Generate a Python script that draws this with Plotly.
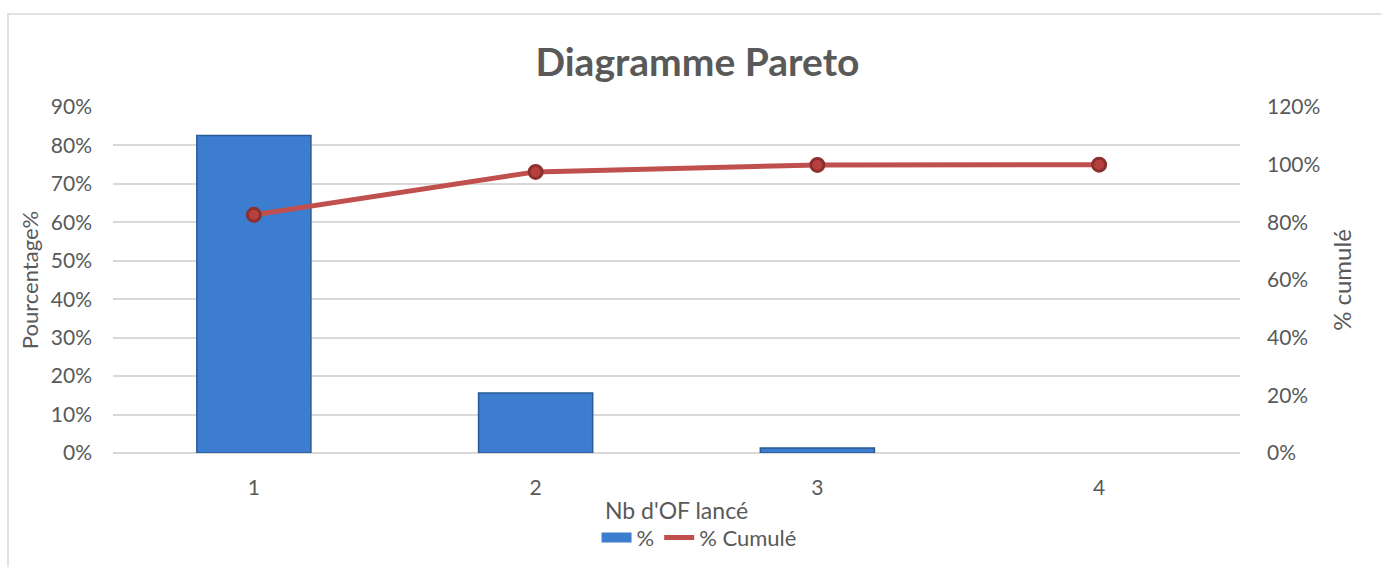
import plotly.graph_objects as go

categories = ["1", "2", "3", "4"]
pct = [0.826, 0.156, 0.013, 0.0]
cum_pct = [0.826, 0.975, 0.999, 1.0]
left_ticks = [0, 0.1, 0.2, 0.3, 0.4, 0.5, 0.6, 0.7, 0.8, 0.9]
right_ticks = [0, 0.2, 0.4, 0.6, 0.8, 1.0, 1.2]

FONT = "Lato"
GREY = "#595959"
BAR_BLUE = "#3d7dcf"
BAR_EDGE = "#2a5a95"
LINE_RED = "#c0504d"

fig = go.Figure()
fig.add_trace(go.Bar(
    x=categories, y=pct, name="%", showlegend=False,
    marker=dict(color=BAR_BLUE,
                line=dict(color=BAR_EDGE,
                          width=[1.5 if v > 0 else 0 for v in pct])),
    width=0.405,
))
fig.add_trace(go.Scatter(
    x=categories, y=cum_pct, name="% Cumulé", yaxis="y2", showlegend=False,
    mode="lines+markers",
    line=dict(color=LINE_RED, width=5),
    marker=dict(size=13, color="#b5403d", line=dict(color="#8c2f2d", width=3)),
))
# legend entries (legend-only styles)
fig.add_trace(go.Scatter(
    x=[None], y=[None], name="%", mode="lines",
    line=dict(color=BAR_BLUE, width=14),
))
fig.add_trace(go.Scatter(
    x=[None], y=[None], name="% Cumulé", mode="lines", yaxis="y2",
    line=dict(color=LINE_RED, width=5),
))

fig.update_layout(
    width=1381, height=567,
    margin=dict(l=113, r=141, t=107, b=114, autoexpand=False),
    paper_bgcolor="white", plot_bgcolor="white",
    font=dict(family=FONT, color=GREY, size=21),
    title=dict(text="<b>Diagramme Pareto</b>", x=0.505, xanchor="center",
               y=0.89, yanchor="middle",
               font=dict(size=39, family=FONT, color=GREY)),
    xaxis=dict(
        type="category", range=[-0.5, 3.5],
        title=dict(text="Nb d'OF lancé", font=dict(size=23), standoff=4),
        tickfont=dict(size=21), ticks="", showgrid=False,
        showline=False, zeroline=False, ticklabelstandoff=20,
    ),
    yaxis=dict(
        range=[0, 0.9], tickvals=left_ticks, tickformat=".0%",
        title=dict(text="Pourcentage%", font=dict(size=22), standoff=6),
        gridcolor="#d9d9d9", gridwidth=1.5, zeroline=True,
        zerolinecolor="#d9d9d9", zerolinewidth=1.5, ticks="",
        ticklabelstandoff=20, tickfont=dict(size=21),
    ),
    yaxis2=dict(
        range=[0, 1.2], tickvals=right_ticks, tickformat=".0%",
        overlaying="y", side="right", showgrid=False, zeroline=False,
        title=dict(text="% cumulé", font=dict(size=24), standoff=14),
        ticks="", ticklabelstandoff=26, tickfont=dict(size=21),
    ),
    legend=dict(orientation="h", x=0.52, xanchor="center", y=-0.245,
                yanchor="middle", font=dict(size=22), itemwidth=30,
                traceorder="normal", bgcolor="rgba(0,0,0,0)"),
    showlegend=True,
    bargap=0.5,
)

# Chart area border (top and left visible)
fig.add_shape(type="rect", xref="paper", yref="paper",
              x0=(8 - 113) / 1127, x1=1.3, y0=-0.6, y1=(453 - 14) / 346,
              line=dict(color="#d9d9d9", width=1.5), layer="below")

fig.write_html("out.html")
